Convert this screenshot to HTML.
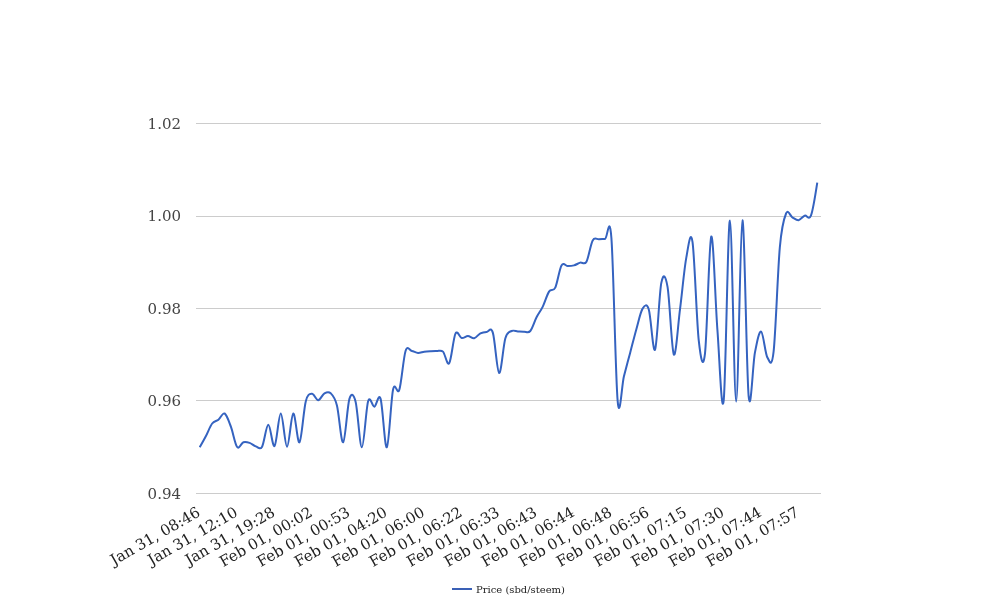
<!DOCTYPE html>
<html><head><meta charset="utf-8"><title>Price (sbd/steem)</title>
<style>
html,body{margin:0;padding:0;background:#fff;}
body{width:1008px;height:616px;overflow:hidden;font-family:"DejaVu Serif","Liberation Serif",serif;}
svg{display:block;}
text{font-family:"DejaVu Serif","Liberation Serif",serif;}
</style></head><body>
<svg width="1008" height="616" viewBox="0 0 1008 616">
<rect x="0" y="0" width="1008" height="616" fill="#ffffff"/>

<g fill="#cccccc">
<rect x="196" y="123.00" width="625" height="1"/>
<rect x="196" y="216.00" width="625" height="1"/>
<rect x="196" y="308.00" width="625" height="1"/>
<rect x="196" y="400.00" width="625" height="1"/>
<rect x="196" y="493.00" width="625" height="1"/>
</g>
<g fill="#444444" font-size="15" text-anchor="end">
<text x="181" y="128.95">1.02</text>
<text x="181" y="221.35">1.00</text>
<text x="181" y="313.75">0.98</text>
<text x="181" y="406.15">0.96</text>
<text x="181" y="498.55">0.94</text>
</g>
<path d="M199.70,447.30C199.70,447.30,203.86,439.97,205.94,436.00C208.02,432.03,210.10,426.20,212.18,423.50C214.26,420.80,216.33,421.47,218.41,419.80C220.49,418.13,222.57,412.36,224.65,413.50C226.73,414.64,228.81,421.07,230.89,426.65C232.97,432.23,235.05,444.39,237.13,447.00C239.21,449.61,241.29,442.98,243.37,442.30C245.45,441.62,247.52,442.22,249.60,442.90C251.68,443.58,253.76,445.77,255.84,446.40C257.92,447.02,260.00,450.25,262.08,446.65C264.16,443.05,266.24,424.91,268.32,424.80C270.40,424.69,272.48,447.88,274.56,446.00C276.64,444.12,278.71,413.39,280.79,413.50C282.87,413.61,284.95,446.65,287.03,446.65C289.11,446.65,291.19,414.23,293.27,413.50C295.35,412.77,297.43,444.32,299.51,442.30C301.59,440.28,303.67,409.48,305.75,401.40C307.83,393.32,309.90,394.01,311.98,393.80C314.06,393.59,316.14,400.23,318.22,400.15C320.30,400.07,322.38,394.44,324.46,393.30C326.54,392.16,328.62,391.28,330.70,393.30C332.78,395.32,334.86,397.23,336.94,405.40C339.02,413.57,341.09,443.38,343.17,442.30C345.25,441.22,347.33,405.63,349.41,398.90C351.49,392.17,353.57,393.83,355.65,401.90C357.73,409.97,359.81,447.42,361.89,447.30C363.97,447.18,366.05,407.97,368.13,401.20C370.21,394.43,372.28,407.03,374.36,406.65C376.44,406.27,378.52,392.12,380.60,398.90C382.68,405.67,384.76,448.87,386.84,447.30C388.92,445.73,391.00,399.08,393.08,389.50C395.16,379.92,397.24,396.22,399.32,389.80C401.40,383.38,403.47,357.47,405.55,351.00C407.63,344.53,409.71,350.68,411.79,351.00C413.87,351.32,415.95,352.79,418.03,352.90C420.11,353.01,422.19,351.94,424.27,351.65C426.35,351.36,428.43,351.26,430.51,351.15C432.59,351.04,434.66,350.92,436.74,351.00C438.82,351.08,440.90,349.62,442.98,351.65C445.06,353.68,447.14,366.21,449.22,363.20C451.30,360.19,453.38,337.80,455.46,333.60C457.54,329.40,459.62,337.60,461.70,338.00C463.78,338.40,465.85,335.95,467.93,336.00C470.01,336.05,472.09,338.75,474.17,338.30C476.25,337.85,478.33,334.37,480.41,333.30C482.49,332.23,484.57,331.97,486.65,331.90C488.73,331.83,490.81,326.05,492.89,332.90C494.97,339.75,497.04,372.12,499.12,373.00C501.20,373.88,503.28,345.20,505.36,338.20C507.44,331.20,509.52,332.13,511.60,331.00C513.68,329.87,515.76,331.29,517.84,331.40C519.92,331.51,522.00,331.72,524.08,331.65C526.16,331.58,528.23,333.39,530.31,331.00C532.39,328.61,534.47,321.36,536.55,317.30C538.63,313.24,540.71,310.92,542.79,306.65C544.87,302.38,546.95,294.82,549.03,291.65C551.11,288.47,553.19,291.97,555.27,287.60C557.35,283.22,559.42,269.00,561.50,265.40C563.58,261.80,565.66,266.00,567.74,266.00C569.82,266.00,571.90,265.96,573.98,265.40C576.06,264.84,578.14,263.27,580.22,262.65C582.30,262.03,584.38,265.41,586.46,261.70C588.54,257.99,590.61,244.15,592.69,240.40C594.77,236.65,596.85,239.45,598.93,239.20C601.01,238.95,603.09,239.07,605.17,238.90C607.25,238.73,609.33,211.20,611.41,238.20C613.49,265.20,615.57,377.87,617.65,400.90C619.73,423.93,621.80,384.40,623.88,376.40C625.96,368.40,628.04,360.77,630.12,352.90C632.20,345.02,634.28,336.53,636.36,329.15C638.44,321.77,640.52,311.84,642.60,308.60C644.68,305.36,646.76,302.87,648.84,309.70C650.92,316.53,652.99,354.07,655.07,349.60C657.15,345.13,659.23,293.35,661.31,282.90C663.39,272.45,665.47,274.98,667.55,286.90C669.63,298.82,671.71,350.69,673.79,354.40C675.87,358.11,677.95,325.23,680.03,309.15C682.11,293.07,684.18,269.11,686.26,257.90C688.34,246.69,690.42,228.15,692.50,241.90C694.58,255.65,696.66,321.78,698.74,340.40C700.82,359.02,702.90,370.89,704.98,353.60C707.06,336.31,709.14,240.52,711.22,236.65C713.30,232.78,715.37,303.11,717.45,330.40C719.53,357.69,721.61,418.73,723.69,400.40C725.77,382.07,727.85,220.19,729.93,220.40C732.01,220.61,734.09,401.65,736.17,401.65C738.25,401.65,740.33,221.31,742.41,220.40C744.49,219.49,746.56,374.12,748.64,396.20C750.72,418.28,752.80,363.66,754.88,352.90C756.96,342.14,759.04,330.90,761.12,331.65C763.20,332.40,765.28,354.06,767.36,357.40C769.44,360.74,771.52,370.03,773.60,351.70C775.68,333.37,777.75,270.43,779.83,247.40C781.91,224.37,783.99,218.52,786.07,213.50C788.15,208.48,790.23,216.19,792.31,217.30C794.39,218.41,796.47,220.43,798.55,220.15C800.63,219.88,802.71,216.44,804.79,215.65C806.87,214.86,808.94,220.90,811.02,215.40C813.10,209.90,817.26,182.65,817.26,182.65" fill="none" stroke="#3563c0" stroke-width="2" stroke-linejoin="round"/>
<g fill="#222222" font-size="15" text-anchor="end" letter-spacing="-0.05">
<text x="201.20" y="515.20" transform="rotate(-30 201.20 515.20)">Jan 31, 08:46</text>
<text x="238.63" y="515.20" transform="rotate(-30 238.63 515.20)">Jan 31, 12:10</text>
<text x="276.06" y="515.20" transform="rotate(-30 276.06 515.20)">Jan 31, 19:28</text>
<text x="313.48" y="515.20" transform="rotate(-30 313.48 515.20)">Feb 01, 00:02</text>
<text x="350.91" y="515.20" transform="rotate(-30 350.91 515.20)">Feb 01, 00:53</text>
<text x="388.34" y="515.20" transform="rotate(-30 388.34 515.20)">Feb 01, 04:20</text>
<text x="425.77" y="515.20" transform="rotate(-30 425.77 515.20)">Feb 01, 06:00</text>
<text x="463.20" y="515.20" transform="rotate(-30 463.20 515.20)">Feb 01, 06:22</text>
<text x="500.62" y="515.20" transform="rotate(-30 500.62 515.20)">Feb 01, 06:33</text>
<text x="538.05" y="515.20" transform="rotate(-30 538.05 515.20)">Feb 01, 06:43</text>
<text x="575.48" y="515.20" transform="rotate(-30 575.48 515.20)">Feb 01, 06:44</text>
<text x="612.91" y="515.20" transform="rotate(-30 612.91 515.20)">Feb 01, 06:48</text>
<text x="650.34" y="515.20" transform="rotate(-30 650.34 515.20)">Feb 01, 06:56</text>
<text x="687.76" y="515.20" transform="rotate(-30 687.76 515.20)">Feb 01, 07:15</text>
<text x="725.19" y="515.20" transform="rotate(-30 725.19 515.20)">Feb 01, 07:30</text>
<text x="762.62" y="515.20" transform="rotate(-30 762.62 515.20)">Feb 01, 07:44</text>
<text x="800.05" y="515.20" transform="rotate(-30 800.05 515.20)">Feb 01, 07:57</text>
</g>
<rect x="452" y="588" width="20" height="2" fill="#3a60b6"/>
<text x="476" y="593" font-size="10" fill="#222222">Price (sbd/steem)</text>
</svg>
</body></html>
